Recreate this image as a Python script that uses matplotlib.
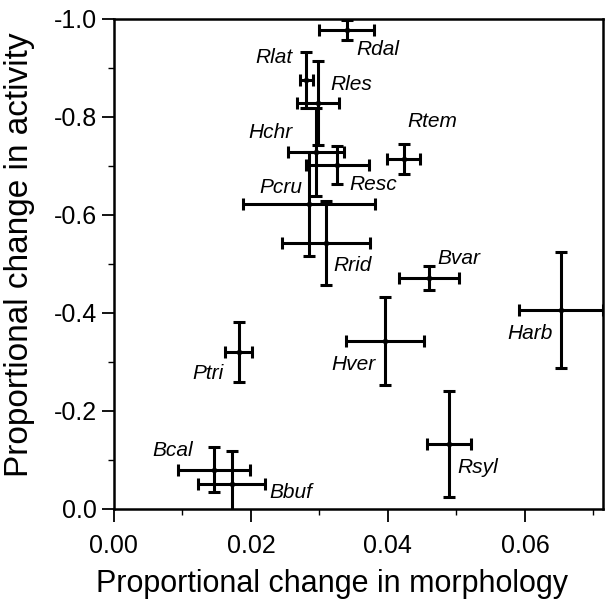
import numpy as np
import matplotlib
matplotlib.use("Agg")
from matplotlib import pyplot as plt
from matplotlib.ticker import MultipleLocator, FormatStrFormatter

# species codes and values
species = ["Rdal", "Rlat", "Rles", "Hchr", "Resc", "Rtem", "Pcru", "Rrid",
           "Bvar", "Harb", "Hver", "Ptri", "Rsyl", "Bcal", "Bbuf"]
morph = [0.0340, 0.0281, 0.0298, 0.0295, 0.0326, 0.0423, 0.0285, 0.0310,
         0.0460, 0.0653, 0.0396, 0.0182, 0.0489, 0.0146, 0.0172]
morph_err = [0.0040, 0.0010, 0.0031, 0.0041, 0.0046, 0.0024, 0.0096, 0.0064,
             0.0044, 0.0061, 0.0057, 0.0020, 0.0032, 0.0053, 0.0049]
activity = [-0.978, -0.876, -0.829, -0.729, -0.702, -0.714, -0.622, -0.543,
            -0.471, -0.406, -0.343, -0.320, -0.133, -0.080, -0.051]
activity_err = [0.020, 0.057, 0.086, 0.090, 0.038, 0.030, 0.106, 0.086,
                0.025, 0.119, 0.090, 0.061, 0.108, 0.046, 0.067]

# label placement (offset in points, horizontal alignment)
label_pos = {
    "Rdal": ((7, -14), "left"), "Rlat": ((-10, 16), "right"),
    "Rles": ((9, 13), "left"), "Hchr": ((-17, 14), "right"),
    "Resc": ((9, -14), "left"), "Rtem": ((3, 27), "left"),
    "Pcru": ((-5, 12), "right"), "Rrid": ((5, -16), "left"),
    "Bvar": ((6, 14), "left"), "Harb": ((-6, -17), "right"),
    "Hver": ((-7, -17), "right"), "Ptri": ((-11, -15), "right"),
    "Rsyl": ((6, -17), "left"), "Bcal": ((-15, 14), "right"),
    "Bbuf": ((27, -6), "left"),
}

plt.rcParams['font.family'] = ['Liberation Sans', 'DejaVu Sans']

fig = plt.figure(figsize=(6.06, 6.02), dpi=100)
ax = fig.add_axes([0.188, 0.1545, 0.807, 0.814])

ax.errorbar(morph, activity, xerr=morph_err, yerr=activity_err, fmt='o',
            color='black', ms=3, elinewidth=2.2, capsize=4, capthick=2.2)

for name, x, y in zip(species, morph, activity):
    off, ha = label_pos[name]
    ax.annotate(name, (x, y), xytext=off, textcoords='offset points',
                ha=ha, va='center', fontsize=15, style='italic')

ax.set_xlim(0, 0.0714)
ax.set_ylim(0, -1.0)
ax.xaxis.set_major_locator(MultipleLocator(0.02))
ax.xaxis.set_minor_locator(MultipleLocator(0.01))
ax.yaxis.set_major_locator(MultipleLocator(0.2))
ax.yaxis.set_minor_locator(MultipleLocator(0.1))
ax.xaxis.set_major_formatter(FormatStrFormatter('%.2f'))
ax.yaxis.set_major_formatter(FormatStrFormatter('%.1f'))
ax.tick_params(which='major', direction='out', length=9, width=1.3,
               labelsize=18, pad=3)
ax.tick_params(axis='x', which='major', pad=9)
ax.tick_params(which='minor', direction='out', length=4, width=1.0)
for s in ax.spines.values():
    s.set_linewidth(1.8)

ax.set_xlabel("Proportional change in morphology", fontsize=22)
ax.set_ylabel("Proportional change in activity", fontsize=24)
ax.xaxis.set_label_coords(0.446, -0.122)
ax.yaxis.set_label_coords(-0.162, 0.518)

fig.savefig("out.png", dpi=100)
